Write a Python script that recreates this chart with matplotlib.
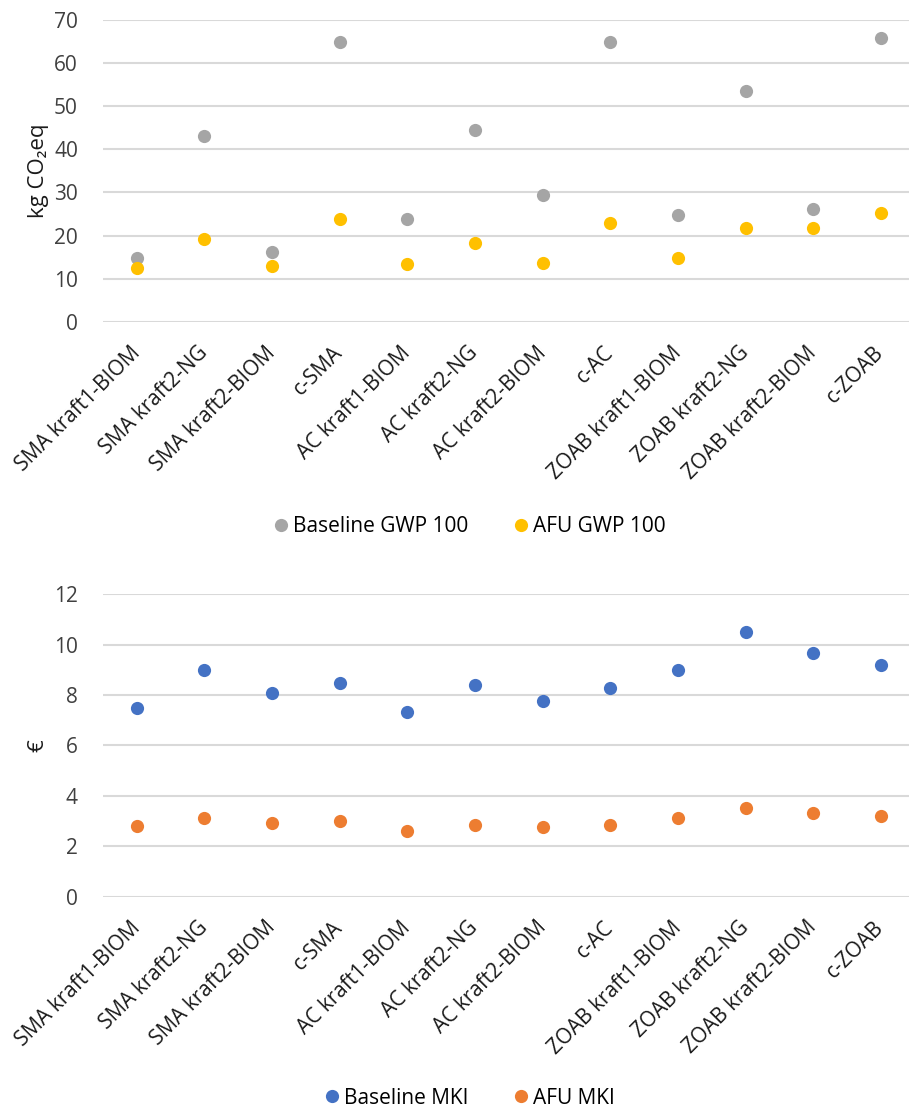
import matplotlib
matplotlib.use("Agg")
import matplotlib.pyplot as plt

plt.rcParams['font.family'] = ['Open Sans', 'DejaVu Sans']

categories = ["SMA kraft1-BIOM", "SMA kraft2-NG", "SMA kraft2-BIOM", "c-SMA",
              "AC kraft1-BIOM", "AC kraft2-NG", "AC kraft2-BIOM", "c-AC",
              "ZOAB kraft1-BIOM", "ZOAB kraft2-NG", "ZOAB kraft2-BIOM", "c-ZOAB"]

baseline_gwp = [14.7, 43.1, 16.1, 64.9, 23.9, 44.5, 29.3, 64.9, 24.8, 53.5, 26.2, 65.8]
afu_gwp = [12.6, 19.1, 13.0, 23.9, 13.4, 18.3, 13.7, 23.0, 14.7, 21.8, 21.8, 25.2]

baseline_mki = [7.47, 9.01, 8.08, 8.49, 7.31, 8.39, 7.78, 8.29, 9.01, 10.49, 9.67, 9.21]
afu_mki = [2.80, 3.12, 2.91, 3.02, 2.61, 2.84, 2.76, 2.86, 3.12, 3.52, 3.32, 3.21]

gwp_ticks = [0, 10, 20, 30, 40, 50, 60, 70]
mki_ticks = [0, 2, 4, 6, 8, 10, 12]

fig = plt.figure(figsize=(9.09, 11.11), dpi=100)
ax1 = fig.add_axes([0.1133, 0.7102, 0.8930, 0.2721])
ax2 = fig.add_axes([0.1133, 0.1929, 0.8930, 0.2722])

FS = 15
MS = 9.5

def style(ax, ticks, ylabel, series, legend_y):
    x = list(range(len(categories)))
    handles = []
    for vals, col, lab in series:
        h, = ax.plot(x, vals, linestyle='none', marker='o', markersize=MS,
                     color=col, markeredgewidth=0, label=lab, zorder=3)
        handles.append(h)
    ax.set_xlim(-0.5, len(categories) - 0.5)
    ax.set_ylim(ticks[0], ticks[-1])
    ax.set_yticks(ticks)
    ax.set_yticklabels([str(t) for t in ticks], fontsize=FS, color='#404040')
    ax.grid(axis='y', color='#D9D9D9', linewidth=1.5, zorder=0)
    ax.set_axisbelow(True)
    for s in ax.spines.values():
        s.set_visible(False)
    ax.tick_params(axis='both', length=0)
    ax.tick_params(axis='y', pad=18)
    ax.set_xticks(x)
    ax.set_xticklabels(categories, rotation=45, ha='right', va='center',
                       rotation_mode='anchor', fontsize=FS, color='#1a1a1a')
    ax.tick_params(axis='x', pad=20)
    ax.set_ylabel(ylabel, fontsize=16, color='#1a1a1a', labelpad=4)
    fig.legend(handles=handles, loc='center', bbox_to_anchor=(0.515, legend_y),
               ncol=2, frameon=False, fontsize=FS, handletextpad=0.1,
               columnspacing=2.0, handlelength=1.0, markerscale=1.0)

style(ax1, gwp_ticks, "kg CO₂eq",
      [(baseline_gwp, '#A5A5A5', 'Baseline GWP 100'),
       (afu_gwp, '#FFC000', 'AFU GWP 100')], 0.5257)
style(ax2, mki_ticks, "€",
      [(baseline_mki, '#4472C4', 'Baseline MKI'),
       (afu_mki, '#ED7D31', 'AFU MKI')], 0.0117)

fig.savefig("out.png", dpi=100, facecolor='white')
